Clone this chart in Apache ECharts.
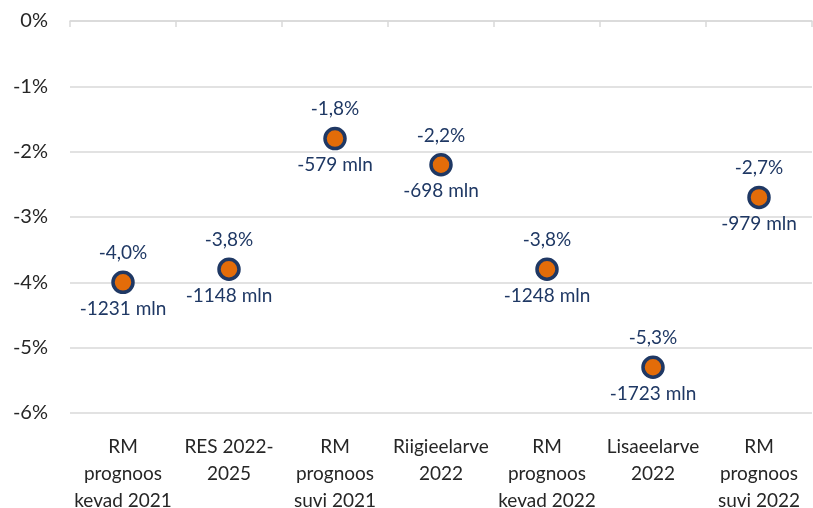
<!DOCTYPE html>
<html>
<head>
<meta charset="utf-8">
<script src="https://cdn.jsdelivr.net/npm/echarts@6/dist/echarts.min.js"></script>
<style>
  html, body { margin: 0; padding: 0; background: #fff; }
  #chart { width: 813px; height: 508px; }
</style>
</head>
<body>
<div id="chart"></div>
<script>
var categories = [
    'RM\nprognoos\nkevad 2021',
    'RES 2022-\n2025',
    'RM\nprognoos\nsuvi 2021',
    'Riigieelarve\n2022',
    'RM\nprognoos\nkevad 2022',
    'Lisaeelarve\n2022',
    'RM\nprognoos\nsuvi 2022'
];
var pctValues = [-4.0, -3.8, -1.8, -2.2, -3.8, -5.3, -2.7];
var mlnValues = [-1231, -1148, -579, -698, -1248, -1723, -979];

var fontName = 'Lato, "Open Sans", sans-serif';
var navy = '#1F3864';

var chart = echarts.init(document.getElementById('chart'));

var option = {
    animation: false,
    grid: {
        left: 70,
        right: 1,
        top: 21,
        bottom: 95,
        outerBoundsMode: 'none'
    },
    xAxis: [
        {
            type: 'category',
            position: 'top',
            data: categories,
            axisLine: { show: true, lineStyle: { color: '#d9d9d9', width: 1.5 } },
            axisTick: { show: true, inside: true, length: 6, lineStyle: { color: '#d9d9d9', width: 1.5 } },
            axisLabel: { show: false },
            splitLine: { show: false }
        },
        {
            type: 'category',
            position: 'bottom',
            data: categories,
            axisLine: { show: false },
            axisTick: { show: false },
            axisLabel: {
                margin: 20,
                color: '#262626',
                fontSize: 19,
                lineHeight: 27,
                fontFamily: fontName,
                interval: 0
            }
        }
    ],
    yAxis: {
        type: 'value',
        min: -6,
        max: 0,
        interval: 1,
        axisLine: { show: false },
        axisTick: { show: false },
        axisLabel: {
            margin: 22,
            color: '#262626',
            fontSize: 20,
            fontFamily: fontName,
            formatter: function (v) { return v + '%'; }
        },
        splitLine: { show: true, lineStyle: { color: '#d9d9d9', width: 1.5 } }
    },
    series: [
        {
            type: 'scatter',
            xAxisIndex: 0,
            data: pctValues,
            symbol: 'circle',
            symbolSize: 20,
            itemStyle: { color: '#E36C09', borderColor: navy, borderWidth: 3.5, opacity: 1 },
            label: {
                show: true,
                position: 'top',
                distance: 8,
                color: navy,
                fontSize: 19,
                fontFamily: fontName,
                formatter: function (p) { return p.value.toFixed(1).replace('.', ',') + '%'; }
            },
            z: 3
        },
        {
            type: 'scatter',
            xAxisIndex: 0,
            data: pctValues,
            symbol: 'circle',
            symbolSize: 20,
            itemStyle: { color: 'rgba(0,0,0,0)', opacity: 1 },
            label: {
                show: true,
                position: 'bottom',
                distance: 7,
                color: navy,
                fontSize: 19,
                fontFamily: fontName,
                formatter: function (p) { return mlnValues[p.dataIndex] + ' mln'; }
            },
            z: 2
        }
    ]
};

chart.setOption(option);
</script>
</body>
</html>
